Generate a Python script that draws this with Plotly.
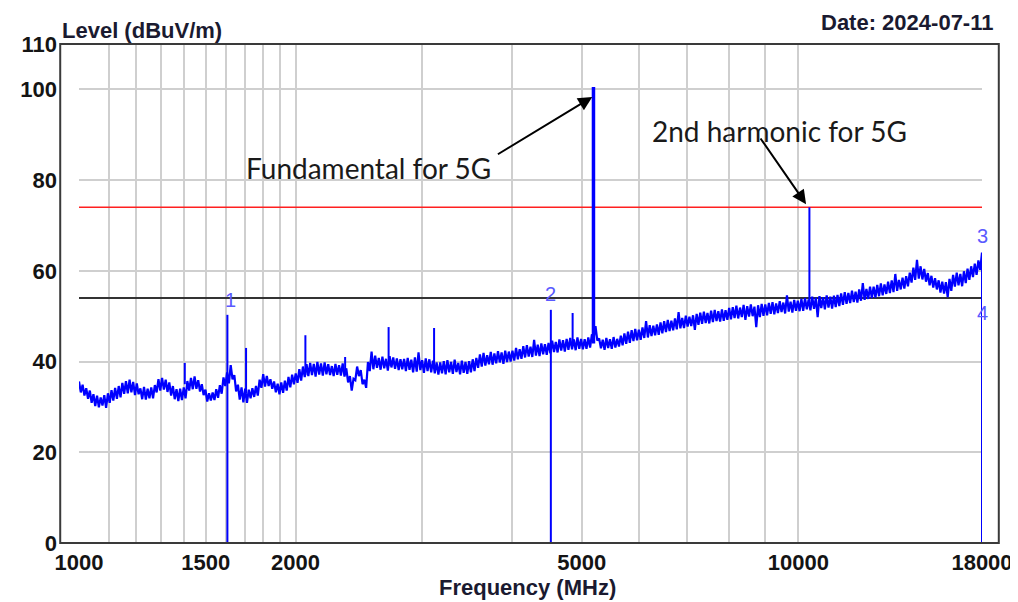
import numpy as np
import plotly.graph_objects as go

# ---------------- data ----------------
sweep_start, sweep_stop = 1000, 18000  # MHz (sweep points are log spaced)
level = [
    35.6, 33.2, 34.9, 32.5, 34.1, 31.8, 33.6, 30.9, 32.8, 30.2, 32.5, 29.9, 32.1, 30.3, 32.6, 29.8, 33.0, 30.9, 33.7, 31.4,
    34.2, 31.8, 34.6, 32.1, 35.3, 32.9, 35.7, 33.0, 36.0, 33.2, 35.5, 32.6, 35.2, 32.8, 34.1, 31.7, 34.4, 31.6, 34.0, 31.9,
    34.3, 31.9, 34.8, 33.2, 36.1, 33.6, 36.4, 33.8, 36.0, 33.3, 35.4, 32.5, 34.6, 31.7, 33.9, 31.3, 34.0, 31.5, 34.3, 31.9,
    35.7, 33.6, 36.4, 33.9, 36.7, 34.0, 35.9, 33.4, 35.0, 32.6, 33.8, 31.2, 33.0, 31.4, 33.2, 31.5, 33.9, 32.0, 34.8, 32.9,
    36.5, 34.6, 37.6, 35.2, 39.2, 36.1, 37.0, 33.4, 34.9, 31.6, 34.3, 31.0, 34.0, 30.9, 33.8, 31.9, 34.1, 32.2, 34.6, 32.5,
    36.0, 34.2, 37.2, 34.5, 36.8, 34.6, 36.1, 34.0, 35.6, 33.2, 35.1, 32.8, 35.4, 33.1, 35.8, 33.6, 36.6, 34.3, 37.1, 35.0,
    37.4, 35.3, 38.3, 35.8, 38.9, 36.6, 39.4, 36.8, 39.7, 37.0, 39.5, 36.7, 39.9, 37.1, 39.6, 36.9, 39.8, 37.2, 39.4, 37.0,
    39.0, 36.8, 39.5, 37.1, 39.2, 36.9, 39.6, 36.7, 38.5, 35.4, 36.8, 33.6, 36.2, 35.9, 38.9, 36.8, 38.1, 35.0, 36.0, 34.2,
    39.9, 37.9, 42.2, 38.3, 41.3, 38.6, 40.8, 38.2, 41.1, 38.5, 40.6, 38.0, 41.2, 38.7, 40.9, 38.4, 40.7, 38.1, 40.5, 38.3,
    40.6, 37.9, 40.8, 38.2, 40.4, 37.6, 40.9, 37.8, 42.0, 38.1, 40.3, 37.5, 40.7, 37.9, 40.5, 37.6, 40.2, 37.4, 39.8, 37.1,
    39.8, 37.4, 40.1, 37.2, 40.3, 37.6, 39.9, 37.3, 40.4, 37.7, 39.7, 37.2, 40.2, 37.5, 39.9, 37.3, 40.1, 37.6, 40.5, 37.9,
    40.8, 38.6, 41.6, 38.9, 41.9, 39.1, 41.4, 39.4, 42.1, 39.3, 41.8, 39.6, 42.3, 39.8, 42.0, 39.5, 42.4, 39.9, 42.2, 40.0,
    42.4, 40.2, 43.0, 40.5, 42.7, 40.6, 43.4, 40.9, 43.6, 41.1, 43.3, 41.0, 44.8, 41.3, 43.7, 41.2, 44.0, 41.6, 43.8, 41.5,
    44.1, 41.8, 44.6, 42.1, 44.3, 42.0, 44.9, 42.4, 44.7, 42.2, 45.0, 42.6, 45.2, 42.7, 44.9, 42.5, 45.3, 42.8, 45.0, 42.7,
    44.9, 42.8, 45.3, 43.1, 46.0, 45.2, 47.8, 44.6, 45.1, 42.9, 44.8, 42.6, 45.2, 43.0, 44.9, 42.8, 45.4, 43.1, 45.0, 43.3,
    45.7, 43.6, 46.2, 43.9, 46.6, 44.1, 46.9, 44.5, 47.2, 44.7, 47.0, 44.8, 47.5, 45.2, 48.9, 45.3, 48.0, 45.6, 47.9, 45.8,
    48.2, 45.9, 48.6, 46.2, 48.9, 46.5, 49.2, 46.7, 49.0, 46.9, 49.5, 47.1, 50.9, 47.3, 49.6, 47.4, 50.1, 47.7, 49.9, 47.8,
    50.2, 47.0, 50.5, 48.1, 50.8, 48.3, 51.0, 48.5, 50.7, 48.4, 51.2, 48.7, 51.4, 48.9, 51.1, 48.8, 51.5, 49.0, 51.3, 49.2,
    51.8, 49.3, 52.0, 49.6, 52.3, 49.5, 51.9, 49.8, 52.5, 49.2, 52.2, 49.9, 52.6, 50.0, 52.1, 47.6, 52.4, 49.8, 52.7, 50.1,
    52.6, 50.2, 52.9, 50.5, 53.1, 50.4, 52.8, 50.7, 53.3, 50.9, 53.0, 50.6, 54.6, 51.0, 53.2, 50.8, 53.6, 51.2, 53.4, 51.1,
    53.8, 51.2, 54.0, 51.5, 53.7, 51.3, 54.3, 51.6, 54.1, 49.8, 54.4, 51.8, 54.2, 51.5, 54.6, 51.9, 54.3, 51.7, 54.5, 52.0,
    54.7, 52.2, 55.0, 52.5, 55.3, 52.7, 55.1, 52.9, 55.6, 53.1, 55.4, 53.0, 55.9, 53.4, 57.3, 53.6, 56.0, 53.8, 56.5, 54.0,
    56.5, 54.1, 56.9, 54.4, 57.2, 54.6, 57.0, 54.9, 57.6, 55.1, 57.9, 55.3, 59.3, 55.6, 58.0, 55.9, 58.5, 56.1, 58.8, 56.6,
    59.6, 57.4, 60.7, 58.0, 62.4, 58.3, 61.0, 58.1, 60.4, 57.6, 59.5, 56.8, 58.9, 56.3, 58.4, 55.9, 57.9, 55.2, 57.6, 55.0,
    57.5, 54.2, 58.2, 55.6, 59.1, 56.5, 59.6, 56.8, 59.3, 56.6, 59.9, 57.3, 60.5, 58.0, 61.0, 58.6, 61.6, 59.1, 62.3, 60.2,
    64.0,
]

spur_freq = [1403, 1707, 2064, 2344, 2694, 3116, 4855, 10360]
spur_base = [35.0, 33.0, 37.0, 38.0, 39.0, 38.6, 44.0, 52.5]
spur_peak = [39.7, 43.0, 45.8, 41.0, 47.6, 47.4, 50.7, 74.0]

fund_freq = 5190
fund_base = 44.0
fund_peak = 100.5

marker_freq = [1608, 4528, 18000]
marker_peak = [50.3, 51.4, 64.0]
marker_labels = ["1", "2", "3", "4"]
marker_label_freq = [1625, 4528, 18000, 18000]
marker_label_level = [53.6, 55.0, 67.6, 50.6]

limit_peak = 74
limit_avg = 54

x_tick_vals = [1000, 1500, 2000, 5000, 10000, 18000]
x_tick_text = ["1000", "1500", "2000", "5000", "10000", "18000"]
x_minor_grid = [1100, 1200, 1300, 1400, 1600, 1700, 1800, 1900,
                3000, 4000, 6000, 7000, 8000, 9000]
y_tick_vals = [0, 20, 40, 60, 80, 100, 110]

# ---------------- figure ----------------
freq = np.geomspace(sweep_start, sweep_stop, len(level))

fig = go.Figure()

# limit lines
fig.add_trace(go.Scatter(x=[sweep_start, sweep_stop], y=[limit_peak, limit_peak],
                         mode="lines", line=dict(color="#ff2020", width=1.5),
                         hoverinfo="skip", showlegend=False))
fig.add_trace(go.Scatter(x=[sweep_start, sweep_stop], y=[limit_avg, limit_avg],
                         mode="lines", line=dict(color="#333333", width=2),
                         hoverinfo="skip", showlegend=False))

# measured trace
fig.add_trace(go.Scatter(x=freq, y=level, mode="lines",
                         line=dict(color="#0000ff", width=2.2, simplify=False),
                         showlegend=False))

# spurs
sx, sy = [], []
for f, b, p in zip(spur_freq, spur_base, spur_peak):
    sx += [f, f, None]
    sy += [b, p, None]
fig.add_trace(go.Scatter(x=sx, y=sy, mode="lines",
                         line=dict(color="#0000ff", width=2), showlegend=False))

# fundamental
fig.add_trace(go.Scatter(x=[fund_freq, fund_freq], y=[fund_base, fund_peak],
                         mode="lines", line=dict(color="#0000ff", width=3.5),
                         showlegend=False))

# marker lines
mx, my = [], []
for f, p in zip(marker_freq, marker_peak):
    mx += [f, f, None]
    my += [0, p, None]
fig.add_trace(go.Scatter(x=mx, y=my, mode="lines",
                         line=dict(color="#0000ff", width=2), showlegend=False))

# marker labels
for t, f, l in zip(marker_labels, marker_label_freq, marker_label_level):
    fig.add_annotation(x=np.log10(f), y=l, text=t, showarrow=False,
                       font=dict(family="Liberation Sans", size=20, color="#5a5aff"))

# arrows + texts
fig.add_annotation(x=np.log10(5170), y=98.3, ax=np.log10(3804), ay=85.5,
                   axref="x", ayref="y", text="", showarrow=True,
                   arrowhead=2, arrowsize=1.4, arrowwidth=2, arrowcolor="#000000")
fig.add_annotation(x=np.log10(10250), y=74.7, ax=np.log10(8830), ay=89.5,
                   axref="x", ayref="y", text="", showarrow=True,
                   arrowhead=2, arrowsize=1.4, arrowwidth=2, arrowcolor="#000000")
fig.add_annotation(x=np.log10(2530), y=82.7, text="Fundamental for 5G", showarrow=False,
                   font=dict(family="Lato", size=28, color="#1a1a1a"))
fig.add_annotation(x=np.log10(9410), y=90.8, text="2nd harmonic for 5G", showarrow=False,
                   font=dict(family="Lato", size=28, color="#1a1a1a"))

# titles
title_font = dict(family="Liberation Sans", size=22, color="#1a1a30", weight="bold")
fig.add_annotation(xref="paper", yref="paper", x=-0.0208, y=1.028, xanchor="left",
                   yanchor="middle", text="Level (dBuV/m)", showarrow=False, font=title_font)
fig.add_annotation(xref="paper", yref="paper", x=1.0142, y=1.0721, xanchor="right",
                   yanchor="top", text="Date: 2024-07-11", showarrow=False, font=title_font)
fig.add_annotation(xref="paper", yref="paper", x=0.497, y=-0.090, xanchor="center",
                   yanchor="middle", text="Frequency (MHz)", showarrow=False, font=title_font)

# frame
fig.add_shape(type="rect", xref="paper", yref="paper", x0=-0.0208, x1=1.0186, y0=0, y1=1,
              line=dict(color="#3a3a3a", width=2), layer="above")

grid_color = "#cfcfcf"
tick_font = dict(family="Liberation Sans", size=22, color="#141414", weight="bold")
fig.update_xaxes(type="log", range=[np.log10(sweep_start), np.log10(sweep_stop)],
                 tickmode="array", tickvals=x_tick_vals, ticktext=x_tick_text,
                 showgrid=True, gridcolor=grid_color, gridwidth=1.5,
                 minor=dict(tickmode="array", tickvals=x_minor_grid, showgrid=True,
                            gridcolor=grid_color, gridwidth=1.5, ticks=""),
                 ticks="", zeroline=False, showline=False, tickfont=tick_font,
                 ticklabelstandoff=4)
fig.update_yaxes(range=[0, 110], tickmode="array", tickvals=y_tick_vals,
                 showgrid=True, gridcolor=grid_color, gridwidth=1.5,
                 ticks="", zeroline=False, showline=False, tickfont=tick_font,
                 ticklabelstandoff=21)

fig.update_layout(width=1018, height=602, margin=dict(l=61, r=44, t=36, b=67),
                  paper_bgcolor="white", plot_bgcolor="white", showlegend=False)

fig.write_html("out.html")
